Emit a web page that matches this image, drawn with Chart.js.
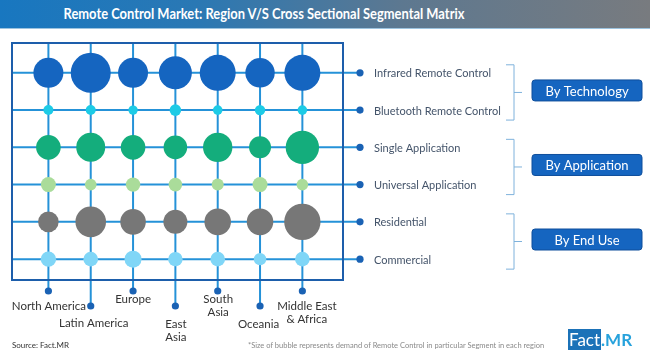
<!DOCTYPE html>
<html>
<head>
<meta charset="utf-8">
<script src="https://cdn.jsdelivr.net/npm/chart.js@4.4.1/dist/chart.umd.min.js"></script>
<style>
  body { margin: 0; background: #fff; font-family: Lato, "Open Sans", sans-serif; }
  #wrap { position: relative; width: 650px; height: 359px; overflow: hidden; }
  #myChart { position: absolute; left: 0; top: 0; }
  .banner {
    position: absolute; left: 0; top: 0; width: 650px; height: 28px;
    background: linear-gradient(to right, #1877c0 0%, #2a78b4 30%, #5d7890 62%, #787b7f 100%);
    border-bottom: 1px solid #9cc3df;
  }
  .banner span {
    position: absolute; left: 0; width: 528px; top: 5px; text-align: center;
    color: #fff; font-weight: 700; font-size: 14.5px; white-space: nowrap;
    transform: scaleX(0.89); transform-origin: 264px 0;
  }
  .source { position: absolute; left: 12px; top: 340px; font-size: 8px; color: #333; }
  .note { position: absolute; left: 248px; top: 341px; font-size: 7.5px; color: #8a8a8a; white-space: nowrap; }
  .logo { position: absolute; left: 568px; top: 331px; font-size: 17px; line-height: 18px; white-space: nowrap; }
  .logo .fact { background: #1b72b8; color: #fff; padding: 0 1px; }
  .logo .mr { color: #27a2dc; font-weight: 700; }
</style>
</head>
<body>
<div id="wrap">
  <canvas id="myChart" width="650" height="359"></canvas>
  <div class="banner"><span>Remote Control Market: Region V/S Cross Sectional Segmental Matrix</span></div>
  <div class="source">Source: Fact.MR</div>
  <div class="note">*Size of bubble represents demand of Remote Control in particular Segment in each region</div>
  <div class="logo"><span class="fact">Fact</span><span class="mr">.MR</span></div>
</div>
<script>
  // regions (columns), split into display lines
  const regions = [['North America'], ['Latin America'], ['Europe'], ['East', 'Asia'], ['South', 'Asia'], ['Oceania'], ['Middle East', '& Africa']];
  // segments (rows)
  const segments = ['Infrared Remote Control', 'Bluetooth Remote Control', 'Single Application', 'Universal Application', 'Residential', 'Commercial'];
  const groups = ['By Technology', 'By Application', 'By End Use'];

  // bubble size (radius) per region
  const infrared    = [15, 20, 15, 16.5, 18, 14.7, 18];
  const bluetooth   = [5, 5, 4.7, 5.8, 4.8, 5.2, 4.8];
  const single      = [12.3, 14.5, 12.3, 11.8, 14.7, 11, 16.7];
  const universal   = [7.5, 5.8, 7.2, 6.8, 6, 7.5, 5.8];
  const residential = [10.3, 15.3, 12.8, 12, 13.3, 13.3, 18.2];
  const commercial  = [7.7, 7.3, 8.5, 7.2, 7.3, 6.2, 7.3];

  const series = [infrared, bluetooth, single, universal, residential, commercial];
  const colors = ['#1565c0', '#1ccbe6', '#14ad7c', '#aadc9a', '#777777', '#80d6f7'];

  // label placement below the grid: [dx, dy of first line]
  const regionLabelPos = [[0.5, 26], [3, 43], [0, 19], [0.5, 44], [0.5, 19], [-1.5, 44.5], [4.5, 26]];
  const stemLen = [11, 26, 11, 26, 11, 26, 11];

  const data = {
    datasets: series.map((vals, j) => ({
      label: segments[j],
      backgroundColor: colors[j],
      borderWidth: 0,
      data: vals.map((v, i) => ({ x: i, y: j, r: v }))
    }))
  };

  function line(ctx, x1, y1, x2, y2) {
    ctx.beginPath();
    ctx.moveTo(x1, y1);
    ctx.lineTo(x2, y2);
    ctx.stroke();
  }
  function dot(ctx, x, y) {
    ctx.beginPath();
    ctx.arc(x, y, 3.6, 0, Math.PI * 2);
    ctx.fill();
  }

  const matrixPlugin = {
    id: 'matrix',
    beforeDatasetsDraw(chart) {
      const { ctx, chartArea: a, scales: { x, y } } = chart;
      ctx.save();
      ctx.lineWidth = 2;
      ctx.strokeStyle = '#2592d8';
      ctx.fillStyle = '#1a62b4';
      segments.forEach((s, j) => {
        const py = y.getPixelForValue(j);
        line(ctx, a.left, py, a.right + 17, py);
      });
      regions.forEach((r, i) => {
        const px = x.getPixelForValue(i);
        line(ctx, px, a.top, px, a.bottom + stemLen[i]);
      });
      ctx.strokeStyle = '#1d5eab';
      ctx.strokeRect(a.left, a.top, a.right - a.left, a.bottom - a.top);
      segments.forEach((s, j) => dot(ctx, a.right + 17, y.getPixelForValue(j)));
      regions.forEach((r, i) => dot(ctx, x.getPixelForValue(i), a.bottom + stemLen[i]));
      ctx.restore();
    },
    afterDatasetsDraw(chart) {
      const { ctx, chartArea: a, scales: { x, y } } = chart;
      ctx.save();
      ctx.textBaseline = 'middle';

      // row labels
      ctx.font = '11px Lato';
      ctx.fillStyle = '#44546a';
      ctx.textAlign = 'left';
      segments.forEach((s, j) => ctx.fillText(s, a.right + 31, y.getPixelForValue(j) + 1));

      // region labels
      ctx.font = '11.5px Lato';
      ctx.fillStyle = '#333333';
      ctx.textAlign = 'center';
      regions.forEach((lines, i) => {
        const px = x.getPixelForValue(i) + regionLabelPos[i][0];
        lines.forEach((t, k) => ctx.fillText(t, px, a.bottom + regionLabelPos[i][1] + k * 13.5));
      });

      // brackets + group boxes
      groups.forEach((g, k) => {
        const y0 = y.getPixelForValue(k * 2) - 8;
        const y1 = y.getPixelForValue(k * 2 + 1) + 10;
        const bx = a.right + 171;
        const mid = (y0 + y1) / 2;
        ctx.strokeStyle = '#7fb2dc';
        ctx.lineWidth = 1;
        ctx.beginPath();
        ctx.moveTo(bx - 8, y0);
        ctx.lineTo(bx, y0);
        ctx.lineTo(bx, y1);
        ctx.lineTo(bx - 8, y1);
        ctx.stroke();
        line(ctx, bx, mid, bx + 8, mid);

        const bw = 110, bh = 21, left = bx + 18, top = mid - bh / 2 - 2;
        ctx.fillStyle = '#1565c0';
        ctx.beginPath();
        ctx.roundRect(left, top, bw, bh, 3);
        ctx.fill();
        ctx.strokeStyle = '#0f4f9c';
        ctx.stroke();
        ctx.fillStyle = '#ffffff';
        ctx.font = '13px Lato';
        ctx.textAlign = 'center';
        ctx.fillText(g, left + bw / 2, top + bh / 2 + 1);
      });
      ctx.restore();
    }
  };

  const config = {
    type: 'bubble',
    data: data,
    options: {
      responsive: false,
      animation: false,
      devicePixelRatio: 1,
      layout: { autoPadding: false, padding: { left: 12, top: 43, right: 307, bottom: 79 } },
      plugins: { legend: { display: false }, tooltip: { enabled: false } },
      scales: {
        x: { type: 'linear', min: -0.86, max: 6.96, display: false },
        y: { type: 'linear', min: -0.8, max: 5.56, reverse: true, display: false }
      }
    },
    plugins: [matrixPlugin]
  };

  const myChart = new Chart(document.getElementById('myChart'), config);
</script>
</body>
</html>
